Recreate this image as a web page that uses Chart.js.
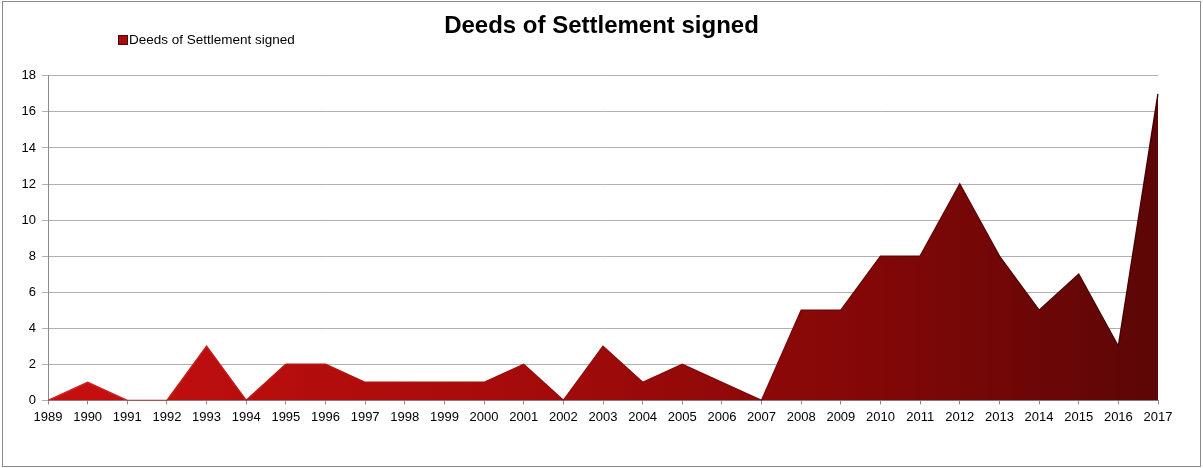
<!DOCTYPE html>
<html>
<head>
<meta charset="utf-8">
<script src="https://cdn.jsdelivr.net/npm/chart.js@4/dist/chart.umd.min.js"></script>
<style>
  html, body { margin: 0; padding: 0; background: #fff; }
  #wrap { width: 1203px; height: 468px; }
</style>
</head>
<body>
<div id="wrap"><canvas id="deedsChart" width="1203" height="468"></canvas></div>
<script>
// years on the x axis
const years = ['1989', '1990', '1991', '1992', '1993', '1994', '1995', '1996', '1997', '1998',
    '1999', '2000', '2001', '2002', '2003', '2004', '2005', '2006', '2007', '2008',
    '2009', '2010', '2011', '2012', '2013', '2014', '2015', '2016', '2017'];
// number of deeds signed each year
const deedsSigned = [0, 1, 0, 0, 3, 0, 2, 2, 1, 1,
    1, 1, 2, 0, 3, 1, 2, 1, 0, 5,
    5, 8, 8, 12, 8, 5, 7, 3, 17];
const seriesName = 'Deeds of Settlement signed';
const chartTitle = 'Deeds of Settlement signed';

const FONT = "'Liberation Sans', Arial, sans-serif";

// outer frame + hand placed legend (title/legend overlap vertically in the original)
const framePlugin = {
    id: 'frame',
    afterDraw(chart) {
        const ctx = chart.ctx;
        ctx.save();
        ctx.strokeStyle = '#8a8a8a';
        ctx.lineWidth = 1;
        ctx.strokeRect(2.5, 1.5, 1198, 465);

        // legend item
        ctx.fillStyle = '#a30f0f';
        ctx.fillRect(118, 35, 10, 10);
        ctx.strokeStyle = '#5a0505';
        ctx.strokeRect(118.5, 35.5, 9, 9);
        ctx.fillStyle = '#000';
        ctx.font = '13.5px ' + FONT;
        ctx.textBaseline = 'middle';
        ctx.fillText(chart.data.datasets[0].label, 129, 40.5);
        ctx.restore();
    }
};

function makeGradient(chart, stops) {
    const area = chart.chartArea;
    if (!area) return stops[0][1];
    const g = chart.ctx.createLinearGradient(area.left, 0, area.right, 0);
    stops.forEach(s => g.addColorStop(s[0], s[1]));
    return g;
}

const ctx = document.getElementById('deedsChart').getContext('2d');
const deedsChart = new Chart(ctx, {
    type: 'line',
    data: {
        labels: years,
        datasets: [{
            label: seriesName,
            data: deedsSigned,
            fill: 'origin',
            tension: 0,
            pointRadius: 0,
            borderWidth: 1.5,
            backgroundColor: c => makeGradient(c.chart, [[0, '#c60f0f'], [0.4, '#a80b0b'], [0.75, '#820707'], [1, '#5c0606']]),
            borderColor: c => makeGradient(c.chart, [[0, '#d42222'], [0.45, '#9a0a0a'], [1, '#450303']])
        }]
    },
    options: {
        responsive: false,
        animation: false,
        layout: { padding: { left: 0, right: 0, top: 0, bottom: 38 } },
        plugins: {
            legend: { display: false },
            tooltip: { enabled: false },
            title: {
                display: true,
                text: chartTitle,
                color: '#000',
                font: { family: FONT, size: 24, weight: 'bold', lineHeight: 1.2 },
                padding: { top: 12, bottom: 35 }
            }
        },
        scales: {
            x: {
                offset: false,
                grid: { drawOnChartArea: false, color: '#8a8a8a', tickLength: 4 },
                border: { color: '#8a8a8a' },
                ticks: {
                    color: '#000',
                    font: { family: FONT, size: 13 },
                    maxRotation: 0,
                    autoSkip: false,
                    padding: 5
                }
            },
            y: {
                min: 0,
                max: 18,
                afterFit(scale) { scale.width = 48; },
                grid: { color: '#b0b0b0', tickLength: 6 },
                border: { color: '#8a8a8a' },
                ticks: {
                    stepSize: 2,
                    color: '#000',
                    font: { family: FONT, size: 13 },
                    padding: 6
                }
            },
            // empty right margin so the title centres on the full frame
            spacer: {
                position: 'right',
                afterFit(scale) { scale.width = 45; },
                grid: { display: false },
                border: { display: false },
                ticks: { display: false }
            }
        }
    },
    plugins: [framePlugin]
});
</script>
</body>
</html>
